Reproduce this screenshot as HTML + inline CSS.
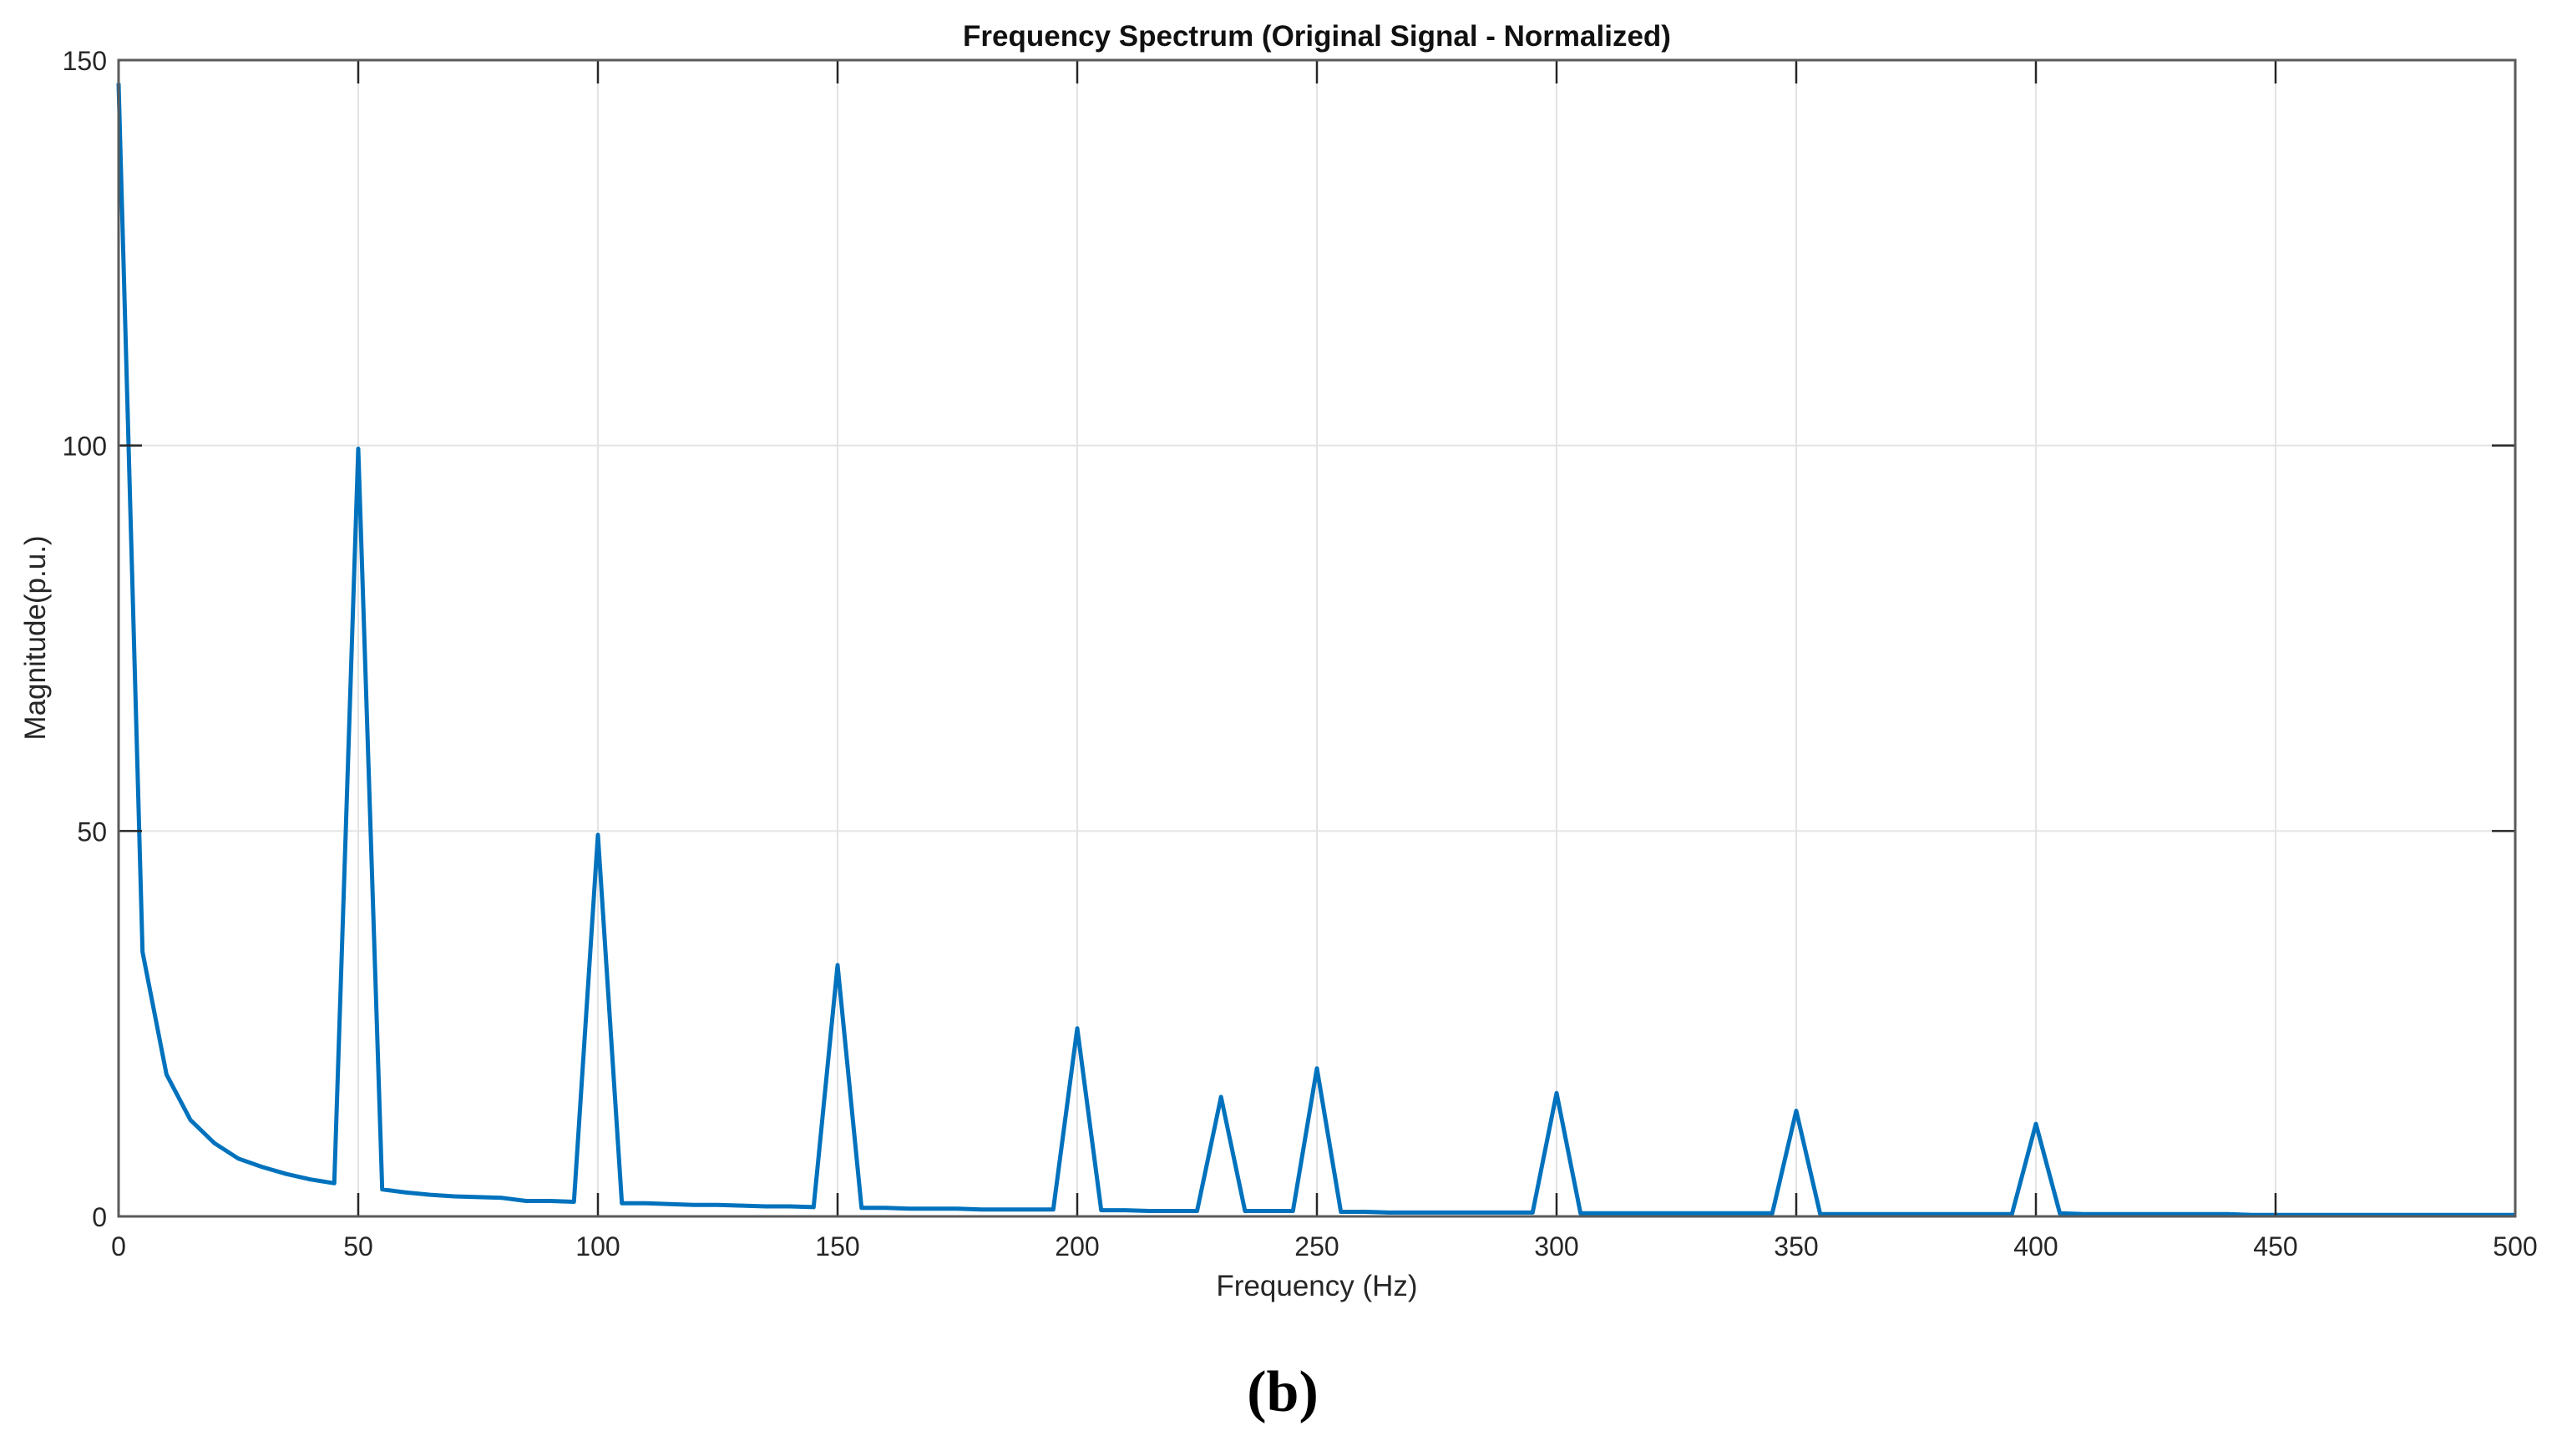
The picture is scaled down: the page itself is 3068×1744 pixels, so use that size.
<!DOCTYPE html>
<html><head><meta charset="utf-8"><style>
html,body{margin:0;padding:0;background:#fff;}
svg{display:block;font-family:"Liberation Sans",Arial,sans-serif;}
</style></head><body>
<svg id="chart" width="3068" height="1744" viewBox="0 0 3068 1744" xmlns="http://www.w3.org/2000/svg">
<rect width="3068" height="1744" fill="#fff"/>
<g id="grid"></g>
<g id="series"></g>
<g id="axes"></g>
<text x="1577" y="55" font-size="35" font-weight="bold" text-anchor="middle" fill="#111">Frequency Spectrum (Original Signal - Normalized)</text>
<text x="1577" y="1552" font-size="35" text-anchor="middle" fill="#262626">Frequency (Hz)</text>
<text transform="translate(54,764) rotate(-90)" font-size="35" text-anchor="middle" fill="#262626">Magnitude(p.u.)</text>
<text x="1536" y="1690" font-size="70" font-weight="bold" text-anchor="middle" font-family="Liberation Serif, serif" fill="#000">(b)</text>
</svg>
<script>
const freqs = [0,5,10,15,20,25,30,35,40,45,50,55,60,65,70,75,80,85,90,95,100,105,110,115,120,125,130,135,140,145,150,155,160,165,170,175,180,185,190,195,200,205,210,215,220,225,230,235,240,245,250,255,260,265,270,275,280,285,290,295,300,305,310,315,320,325,330,335,340,345,350,355,360,365,370,375,380,385,390,395,400,405,410,415,420,425,430,435,440,445,450,455,460,465,470,475,480,485,490,495,500];
const mags = [147,34.3,18.4,12.5,9.5,7.5,6.4,5.5,4.8,4.3,99.6,3.5,3.1,2.8,2.6,2.5,2.4,2.0,2.0,1.9,49.5,1.7,1.7,1.6,1.5,1.5,1.4,1.3,1.3,1.2,32.6,1.1,1.1,1.0,1.0,1.0,0.9,0.9,0.9,0.9,24.4,0.8,0.8,0.7,0.7,0.7,15.5,0.7,0.7,0.7,19.2,0.6,0.6,0.5,0.5,0.5,0.5,0.5,0.5,0.5,16.0,0.4,0.4,0.4,0.4,0.4,0.4,0.4,0.4,0.4,13.7,0.3,0.3,0.3,0.3,0.3,0.3,0.3,0.3,0.3,12.0,0.4,0.3,0.3,0.3,0.3,0.3,0.3,0.3,0.2,0.2,0.2,0.2,0.2,0.2,0.2,0.2,0.2,0.2,0.2,0.2];
const xTicks = [0,50,100,150,200,250,300,350,400,450,500];
const yTicks = [0,50,100,150];

const L=142,R=3012,T=72,B=1457;
const xs=v=>L+(v-0)/(500-0)*(R-L);
const ys=v=>B-(v-0)/(150-0)*(B-T);
const NS='http://www.w3.org/2000/svg';
function mk(tag,attrs,parent){const e=document.createElementNS(NS,tag);for(const k in attrs)e.setAttribute(k,attrs[k]);parent.appendChild(e);return e;}
const grid=document.getElementById('grid'),axes=document.getElementById('axes'),series=document.getElementById('series');
xTicks.forEach(t=>{
  const g=mk('line',{x1:xs(t),x2:xs(t),y1:T,y2:B,stroke:'#e3e3e3','stroke-width':2},grid);
  
  
  const a=mk('line',{x1:xs(t),x2:xs(t),y1:B,y2:B-28,stroke:'#262626','stroke-width':2.5},axes);
  
  
  const b=mk('line',{x1:xs(t),x2:xs(t),y1:T,y2:T+28,stroke:'#262626','stroke-width':2.5},axes);
  
  
  const tx=mk('text',{x:xs(t),y:B+47,'font-size':32,'text-anchor':'middle',fill:'#262626'},axes);
  tx.textContent=t;
  
  
});
yTicks.forEach(t=>{
  const g=mk('line',{x1:L,x2:R,y1:ys(t),y2:ys(t),stroke:'#e3e3e3','stroke-width':2},grid);
  
  
  const a=mk('line',{x1:L,x2:L+28,y1:ys(t),y2:ys(t),stroke:'#262626','stroke-width':2.5},axes);
  
  
  const b=mk('line',{x1:R,x2:R-28,y1:ys(t),y2:ys(t),stroke:'#262626','stroke-width':2.5},axes);
  
  
  const tx=mk('text',{x:L-14,y:ys(t)+12,'font-size':32,'text-anchor':'end',fill:'#262626'},axes);
  tx.textContent=t;
  
  
});
const box=mk('rect',{x:L,y:T,width:R-L,height:B-T,fill:'none',stroke:'#5a5a5a','stroke-width':3},axes);


const pts=freqs.map((f,i)=>xs(f).toFixed(1)+','+ys(mags[i]).toFixed(1)).join(' ');
const line=mk('polyline',{points:pts,fill:'none',stroke:'#0072BD','stroke-width':5,'stroke-linejoin':'round'},series);


</script>
</body></html>
